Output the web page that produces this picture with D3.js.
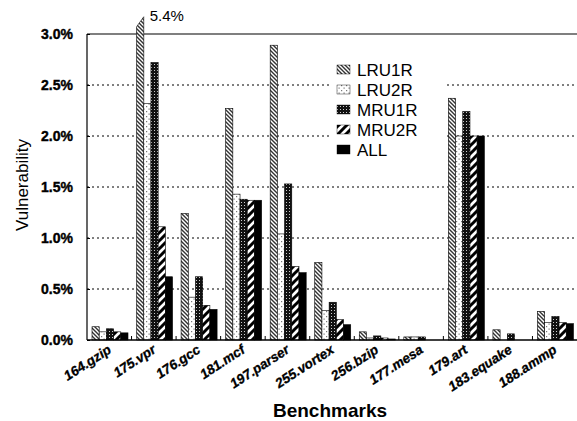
<!DOCTYPE html>
<html><head><meta charset="utf-8">
<script src="https://cdn.jsdelivr.net/npm/d3@7"></script>
<style>body{margin:0;background:#fff}svg{display:block;font-family:"Liberation Sans",Arial,sans-serif}</style>
</head><body><svg id="c" width="577" height="421"></svg>
<script>
const categories = ["164.gzip","175.vpr","176.gcc","181.mcf","197.parser","255.vortex","256.bzip","177.mesa","179.art","183.equake","188.ammp"];
const seriesNames = ["LRU1R","LRU2R","MRU1R","MRU2R","ALL"];
const LRU1R = [0.13, 5.4, 1.24, 2.27, 2.89, 0.76, 0.08, 0.03, 2.37, 0.10, 0.28];
const LRU2R = [0.08, 2.32, 0.42, 1.43, 1.04, 0.29, 0.02, 0.03, 2.00, 0.00, 0.17];
const MRU1R = [0.11, 2.72, 0.62, 1.38, 1.53, 0.37, 0.04, 0.03, 2.24, 0.06, 0.23];
const MRU2R = [0.08, 1.11, 0.34, 1.37, 0.72, 0.20, 0.02, 0.00, 2.00, 0.00, 0.17];
const ALL   = [0.07, 0.62, 0.30, 1.37, 0.66, 0.15, 0.01, 0.00, 2.00, 0.00, 0.16];
const yTicks = [0, 0.5, 1.0, 1.5, 2.0, 2.5, 3.0];
const seriesValues = [LRU1R, LRU2R, MRU1R, MRU2R, ALL];

const svg = d3.select("#c");
const L = 87, R = 577, T = 34, B = 340;
const x = d3.scaleBand().domain(categories).range([L, R]).paddingInner(0).paddingOuter(0);
const xs = d3.scaleBand().domain(seriesNames).range([5, 41]);
const y = d3.scaleLinear().domain([0, 3]).range([B, T]);

// patterns
const defs = svg.append("defs");
let p = defs.append("pattern").attr("id","p0").attr("patternUnits","userSpaceOnUse").attr("width",4).attr("height",4);
p.append("rect").attr("width",4).attr("height",4).attr("fill","#fff");
p.append("path").attr("d","M-1,-1 L5,5 M-1,3 L1,5 M3,-1 L5,1").attr("stroke","#333").attr("stroke-width",1.4);
p = defs.append("pattern").attr("id","p1").attr("patternUnits","userSpaceOnUse").attr("width",5).attr("height",5);
p.append("rect").attr("width",5).attr("height",5).attr("fill","#fff");
p.append("rect").attr("x",1).attr("y",1).attr("width",1.2).attr("height",1.2).attr("fill","#777");
p.append("rect").attr("x",3.5).attr("y",3.5).attr("width",1.2).attr("height",1.2).attr("fill","#777");
p = defs.append("pattern").attr("id","p2").attr("patternUnits","userSpaceOnUse").attr("width",3).attr("height",3);
p.append("rect").attr("width",3).attr("height",3).attr("fill","#111");
p.append("rect").attr("x",1).attr("y",1).attr("width",1).attr("height",1).attr("fill","#ccc");
p = defs.append("pattern").attr("id","p3").attr("patternUnits","userSpaceOnUse").attr("width",8).attr("height",8);
p.append("rect").attr("width",8).attr("height",8).attr("fill","#fff");
p.append("path").attr("d","M-2,10 L10,-2 M-2,2 L2,-2 M6,10 L10,6").attr("stroke","#000").attr("stroke-width",3);
const fills = ["url(#p0)","url(#p1)","url(#p2)","url(#p3)","#000"];

// gridlines
svg.append("g").selectAll("line").data(yTicks.filter(d=>d>0 && d<3)).join("line")
  .attr("x1",L).attr("x2",R).attr("y1",d=>y(d)).attr("y2",d=>y(d))
  .attr("stroke","#000").attr("stroke-width",1).attr("stroke-dasharray","2,3");

// top border
svg.append("line").attr("x1",L).attr("x2",R).attr("y1",T).attr("y2",T).attr("stroke","#000").attr("stroke-width",1.2);

// bars
const maxV = 3.0;
seriesValues.forEach((vals, si) => {
  const g = svg.append("g");
  vals.forEach((v, ci) => {
    if (v <= 0) return;
    const x0 = x(categories[ci]) + xs(seriesNames[si]);
    const w = xs.bandwidth();
    if (v > maxV) {
      const yt = y(3.12);
      g.append("path")
        .attr("d", `M${x0},${B} L${x0},${yt+5} L${x0+w},${yt-5} L${x0+w},${B} Z`)
        .attr("fill", fills[si]).attr("stroke","#000").attr("stroke-width",0.6);
      svg.append("text").attr("x", x0 + w + 6).attr("y", 21).attr("font-size",15).text(v.toFixed(1) + "%");
    } else {
      g.append("rect").attr("x", x0).attr("y", y(v)).attr("width", w).attr("height", B - y(v))
        .attr("fill", fills[si]).attr("stroke","#000").attr("stroke-width",0.6);
    }
  });
});

// legend
const lg = svg.append("g").attr("transform","translate(330,54)");
lg.append("rect").attr("x",0).attr("y",0).attr("width",115).attr("height",110).attr("fill","#fff");
seriesNames.forEach((s,i)=>{
  const yy = 16 + i*20;
  lg.append("rect").attr("x",7).attr("y",yy-5).attr("width",13).attr("height",9).attr("fill",fills[i]).attr("stroke","#000").attr("stroke-width",0.4);
  lg.append("text").attr("x",27).attr("y",yy+6).attr("font-size",17).text(s);
});

// axes
const yAxis = d3.axisLeft(y).tickValues(yTicks).tickSize(-3).tickFormat(d=>d.toFixed(1)+"%").tickPadding(14);
const ya = svg.append("g").attr("transform",`translate(${L},0)`).call(yAxis);
ya.select(".domain").remove();
ya.selectAll("text").attr("font-size",14).attr("font-weight","bold").attr("font-family","Liberation Sans, Arial")
  .attr("fill","#000").attr("stroke","#000").attr("stroke-width",0.4);
svg.append("line").attr("x1",L).attr("x2",L).attr("y1",T).attr("y2",B).attr("stroke","#000").attr("stroke-width",1.2);
svg.append("line").attr("x1",L).attr("x2",R).attr("y1",B).attr("y2",B).attr("stroke","#000").attr("stroke-width",1.5);

// small category separator ticks
svg.append("g").selectAll("line").data(categories.slice(1)).join("line")
  .attr("x1",d=>x(d)).attr("x2",d=>x(d)).attr("y1",B).attr("y2",B-4).attr("stroke","#000");

// x labels
svg.append("g").selectAll("text").data(categories).join("text")
  .attr("transform",d=>`translate(${x(d)+x.bandwidth()/2+3},${352}) rotate(-33)`)
  .attr("text-anchor","end").attr("font-size",13.5).attr("font-weight","bold").attr("font-style","italic")
  .attr("stroke","#000").attr("stroke-width",0.3)
  .text(d=>d);

svg.append("text").attr("x",330).attr("y",417).attr("text-anchor","middle").attr("font-size",19).attr("font-weight","bold").text("Benchmarks");
svg.append("text").attr("transform","translate(28,185) rotate(-90)").attr("text-anchor","middle").attr("font-size",17).text("Vulnerability");
</script></body></html>
